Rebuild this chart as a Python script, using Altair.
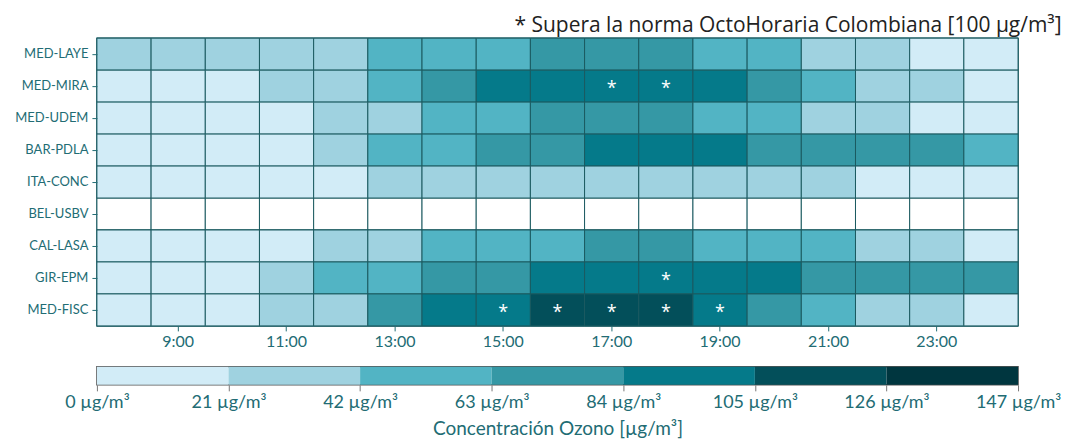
import altair as alt
import pandas as pd

stations = ["MED-LAYE", "MED-MIRA", "MED-UDEM", "BAR-PDLA", "ITA-CONC",
            "BEL-USBV", "CAL-LASA", "GIR-EPM", "MED-FISC"]
hours = ["8:00", "9:00", "10:00", "11:00", "12:00", "13:00", "14:00", "15:00",
         "16:00", "17:00", "18:00", "19:00", "20:00", "21:00", "22:00", "23:00", "24:00"]
tick_hours = ["9:00", "11:00", "13:00", "15:00", "17:00", "19:00", "21:00", "23:00"]

med_laye = [28, 27, 26, 27, 33, 48, 55, 60, 72, 78, 76, 62, 55, 38, 30, 19, 16]
med_mira = [15, 14, 15, 25, 35, 52, 80, 96, 99, 102, 101, 97, 80, 55, 36, 30, 19]
med_udem = [14, 13, 14, 18, 30, 38, 50, 58, 68, 75, 73, 58, 52, 37, 30, 18, 16]
bar_pdla = [12, 12, 13, 16, 30, 48, 56, 68, 78, 92, 95, 90, 79, 76, 74, 70, 58]
ita_conc = [12, 11, 12, 14, 19, 24, 28, 32, 35, 36, 35, 33, 30, 25, 19, 17, 15]
bel_usbv = [None] * 17
cal_lasa = [13, 12, 13, 17, 28, 34, 46, 54, 60, 67, 70, 60, 52, 46, 36, 30, 19]
gir_epm = [14, 14, 16, 30, 45, 58, 70, 80, 94, 98, 101, 99, 91, 78, 74, 72, 70]
med_fisc = [14, 14, 16, 28, 36, 70, 96, 103, 112, 118, 115, 102, 76, 58, 36, 32, 18]

series = [med_laye, med_mira, med_udem, bar_pdla, ita_conc, bel_usbv,
          cal_lasa, gir_epm, med_fisc]

edges = [0, 21, 42, 63, 84, 105, 126, 147]
colors = ["#d2ecf7", "#9fd2e0", "#52b4c4", "#3598a5", "#057a8a", "#034f5a", "#00363f"]
norma = 100

rows = []
for st, vals in zip(stations, series):
    for h, v in zip(hours, vals):
        rows.append({"estacion": st, "hora": h, "ozono": v})
df = pd.DataFrame(rows)

teal = "#226c74"
font = "Lato"

color_scale = alt.Scale(type="threshold", domain=edges[1:-1], range=colors)

base = alt.Chart(df).encode(
    x=alt.X("hora:O", sort=hours,
            scale=alt.Scale(paddingInner=0, paddingOuter=0),
            axis=alt.Axis(values=tick_hours, title=None, labelAngle=0, domain=False,
                          labelFont=font, labelFontSize=16, labelColor=teal,
                          tickColor=teal, tickSize=5, labelPadding=3)),
    y=alt.Y("estacion:O", sort=stations,
            scale=alt.Scale(paddingInner=0, paddingOuter=0),
            axis=alt.Axis(title=None, domain=False, labelFont=font, labelFontSize=13,
                          labelColor=teal, tickColor=teal, tickSize=5, labelPadding=4)),
)

bg = base.mark_rect(fill="white", stroke="#1b5a60", strokeWidth=1)
heat = base.mark_rect(stroke="#1b5a60", strokeWidth=1).encode(
    color=alt.Color("ozono:Q", scale=color_scale, legend=None)
).transform_filter("isValid(datum.ozono)")
stars = base.mark_text(text="*", color="white", fontSize=18, font="Open Sans",
                       baseline="middle", dy=3).transform_filter(f"datum.ozono > {norma}")

heatmap = alt.layer(bg, heat, stars).properties(
    width=922, height=288,
    title=alt.TitleParams("* Supera la norma OctoHoraria Colombiana [100 µg/m³]",
                          anchor="end", dx=43, fontSize=21, font="Open Sans",
                          fontWeight="normal", color="#222222", offset=2),
)

cb_df = pd.DataFrame({"lo": edges[:-1], "hi": edges[1:]})
colorbar = alt.Chart(cb_df).mark_rect().encode(
    x=alt.X("lo:Q", scale=alt.Scale(domain=[0, 147], nice=False, zero=False),
            axis=alt.Axis(values=edges, labelExpr="datum.value + ' µg/m³'",
                          title="Concentración Ozono [µg/m³]", domain=False,
                          labelFont=font, labelFontSize=18, labelColor=teal,
                          titleFont=font, titleFontSize=19, titleColor=teal,
                          titleFontWeight="normal", titlePadding=8,
                          tickColor="#777777", tickSize=6, labelPadding=3,
                          labelFlush=False, labelOverlap=False, grid=False)),
    x2="hi",
    color=alt.Color("lo:Q", scale=color_scale, legend=None),
).properties(width=922, height=18,
             view=alt.ViewBackground(stroke="#555555", strokeWidth=1.5))

chart = alt.vconcat(heatmap, colorbar, spacing=15).resolve_scale(
    color="independent"
).configure_view(stroke="#2f6f75", strokeWidth=1.5)

chart.save("out.html", embed_options={"renderer": "svg", "actions": False})
